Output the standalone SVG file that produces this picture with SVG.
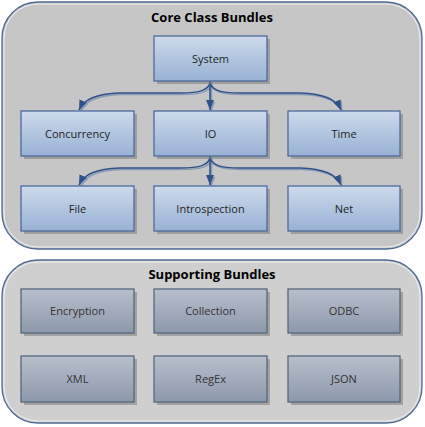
<svg xmlns="http://www.w3.org/2000/svg" width="425" height="427" viewBox="0 0 425 427">
<defs>
<linearGradient id="gBlue" x1="0" y1="0" x2="0" y2="1">
<stop offset="0" stop-color="#cddaeb"/>
<stop offset="1" stop-color="#98b1d4"/>
</linearGradient>
<linearGradient id="gGray" x1="0" y1="0" x2="0" y2="1">
<stop offset="0" stop-color="#b7bfcb"/>
<stop offset="1" stop-color="#8c98ab"/>
</linearGradient>
<marker id="ah" viewBox="0 0 10 8" refX="10" refY="4" markerWidth="10" markerHeight="8" orient="auto" markerUnits="userSpaceOnUse">
<path d="M0,0 L10,4 L0,8 z" fill="#2f5288"/>
</marker>
<marker id="ahs" viewBox="0 0 10 8" refX="10" refY="4" markerWidth="10" markerHeight="8" orient="auto" markerUnits="userSpaceOnUse">
<path d="M0,0 L10,4 L0,8 z" fill="#8a9cb8"/>
</marker>
</defs>
<style>
.cont{stroke:#4f6a93;stroke-width:1.3}
.inner{fill:none;stroke:#eef0f4;stroke-width:1}
.title{font-family:"Open Sans","DejaVu Sans",sans-serif;font-weight:bold;font-size:13px;fill:#000;text-anchor:middle}
.nb rect.b{fill:url(#gBlue);stroke:#4c6c9c;stroke-width:1.3}
.ng rect.b{fill:url(#gGray);stroke:#56677f;stroke-width:1.3}
rect.sh{fill:#7d7d7d;opacity:0.55}
.lbl{font-family:"Open Sans","DejaVu Sans",sans-serif;font-size:11px;fill:#1e1e1e;text-anchor:middle}
.ng .lbl{fill:#333}
.conn{fill:none;stroke:#2f5288;stroke-width:1.6}
.cshadow{fill:none;stroke:#8a9cb8;stroke-width:1.6}
</style>

<g id="core-bundle">
<rect class="cont" x="2" y="2" width="420" height="247" rx="36" ry="36" fill="#c6c6c6"/>
<rect class="inner" x="4" y="4" width="416" height="243" rx="34" ry="34"/>
<text class="title" x="212" y="22">Core Class Bundles</text>
</g>

<g id="supporting-bundle">
<rect class="cont" x="2" y="260" width="420" height="163" rx="36" ry="36" fill="#cfcfcf"/>
<rect class="inner" x="4" y="262" width="416" height="159" rx="34" ry="34"/>
<text class="title" x="212" y="279">Supporting Bundles</text>
</g>

<g id="connectors">
<g transform="translate(1.5,1.5)">
<path class="cshadow" marker-end="url(#ahs)" d="M210,81 C210,90 200,93 180,93 L120,93 C96,94 84,99 79,110"/>
<path class="cshadow" marker-end="url(#ahs)" d="M210,81 L210,110"/>
<path class="cshadow" marker-end="url(#ahs)" d="M210,81 C210,90 220,93 240,93 L300,93 C324,94 336,99 341,110"/>
<path class="cshadow" marker-end="url(#ahs)" d="M210,156 C210,165 200,168 180,168 L120,168 C96,169 84,174 79,185"/>
<path class="cshadow" marker-end="url(#ahs)" d="M210,156 L210,185"/>
<path class="cshadow" marker-end="url(#ahs)" d="M210,156 C210,165 220,168 240,168 L300,168 C324,169 336,174 341,185"/>
</g>
<path class="conn" marker-end="url(#ah)" d="M210,81 C210,90 200,93 180,93 L120,93 C96,94 84,99 79,110"/>
<path class="conn" marker-end="url(#ah)" d="M210,81 L210,110"/>
<path class="conn" marker-end="url(#ah)" d="M210,81 C210,90 220,93 240,93 L300,93 C324,94 336,99 341,110"/>
<path class="conn" marker-end="url(#ah)" d="M210,156 C210,165 200,168 180,168 L120,168 C96,169 84,174 79,185"/>
<path class="conn" marker-end="url(#ah)" d="M210,156 L210,185"/>
<path class="conn" marker-end="url(#ah)" d="M210,156 C210,165 220,168 240,168 L300,168 C324,169 336,174 341,185"/>
</g>

<g id="system" class="nb"><rect class="sh" x="157" y="39" width="113" height="45"/><rect class="b" x="154" y="36" width="113" height="45"/><text class="lbl" x="210.5" y="62.5">System</text></g>
<g id="concurrency" class="nb"><rect class="sh" x="24" y="114" width="113" height="45"/><rect class="b" x="21" y="111" width="113" height="45"/><text class="lbl" x="77.5" y="137.5">Concurrency</text></g>
<g id="io" class="nb"><rect class="sh" x="157" y="114" width="113" height="45"/><rect class="b" x="154" y="111" width="113" height="45"/><text class="lbl" x="210.5" y="137.5">IO</text></g>
<g id="time" class="nb"><rect class="sh" x="291" y="114" width="112" height="45"/><rect class="b" x="288" y="111" width="112" height="45"/><text class="lbl" x="344" y="137.5">Time</text></g>
<g id="file" class="nb"><rect class="sh" x="24" y="189" width="113" height="45"/><rect class="b" x="21" y="186" width="113" height="45"/><text class="lbl" x="77.5" y="212.5">File</text></g>
<g id="introspection" class="nb"><rect class="sh" x="157" y="189" width="113" height="45"/><rect class="b" x="154" y="186" width="113" height="45"/><text class="lbl" x="210.5" y="212.5">Introspection</text></g>
<g id="net" class="nb"><rect class="sh" x="291" y="189" width="112" height="45"/><rect class="b" x="288" y="186" width="112" height="45"/><text class="lbl" x="344" y="212.5">Net</text></g>

<g id="encryption" class="ng"><rect class="sh" x="24" y="292" width="113" height="44"/><rect class="b" x="21" y="289" width="113" height="44"/><text class="lbl" x="77.5" y="315">Encryption</text></g>
<g id="collection" class="ng"><rect class="sh" x="157" y="292" width="113" height="44"/><rect class="b" x="154" y="289" width="113" height="44"/><text class="lbl" x="210.5" y="315">Collection</text></g>
<g id="odbc" class="ng"><rect class="sh" x="291" y="292" width="112" height="44"/><rect class="b" x="288" y="289" width="112" height="44"/><text class="lbl" x="344" y="315">ODBC</text></g>
<g id="xml" class="ng"><rect class="sh" x="24" y="359" width="113" height="46"/><rect class="b" x="21" y="356" width="113" height="46"/><text class="lbl" x="77.5" y="383">XML</text></g>
<g id="regex" class="ng"><rect class="sh" x="157" y="359" width="113" height="46"/><rect class="b" x="154" y="356" width="113" height="46"/><text class="lbl" x="210.5" y="383">RegEx</text></g>
<g id="json" class="ng"><rect class="sh" x="291" y="359" width="112" height="46"/><rect class="b" x="288" y="356" width="112" height="46"/><text class="lbl" x="344" y="383">JSON</text></g>
</svg>
